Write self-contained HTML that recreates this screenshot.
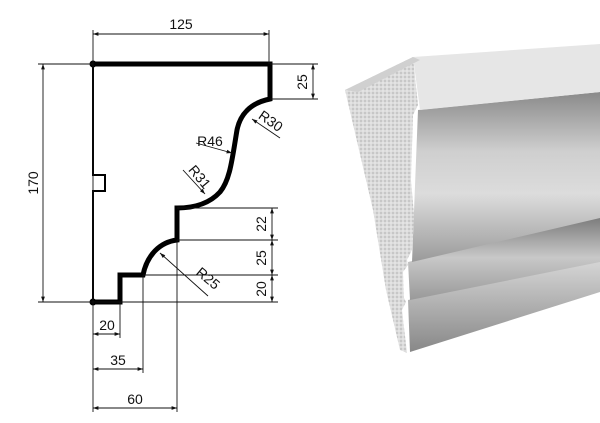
<!DOCTYPE html>
<html><head><meta charset="utf-8"><style>
html,body{margin:0;padding:0;background:#fff;width:600px;height:423px;overflow:hidden}
svg text{font-family:"Liberation Sans",sans-serif;font-size:14px;fill:#111}
</style></head><body>
<svg width="600" height="423" viewBox="0 0 600 423" xmlns="http://www.w3.org/2000/svg">
<defs>
<marker id="a" viewBox="0 0 10 10" refX="10" refY="5" markerWidth="8" markerHeight="6" orient="auto-start-reverse"><path d="M0,1.5 L10,5 L0,8.5 z" fill="#111"/></marker>
<linearGradient id="cove" x1="0" y1="0" x2="0" y2="1">
<stop offset="0" stop-color="#8a8a8a"/><stop offset="0.35" stop-color="#cfcfcf"/><stop offset="0.6" stop-color="#dcdcdc"/><stop offset="1" stop-color="#9a9a9a"/></linearGradient>
<linearGradient id="band" x1="0" y1="0" x2="0" y2="1">
<stop offset="0" stop-color="#d8d8d8"/><stop offset="1" stop-color="#888"/></linearGradient>
<linearGradient id="band2" x1="0" y1="0" x2="0" y2="1">
<stop offset="0" stop-color="#777"/><stop offset="0.5" stop-color="#c8c8c8"/><stop offset="1" stop-color="#999"/></linearGradient>
<pattern id="tex" width="4" height="4" patternUnits="userSpaceOnUse"><rect width="4" height="4" fill="#dcdcdc"/><circle cx="1" cy="1" r="0.9" fill="#b8b8b8"/><circle cx="3" cy="3" r="0.7" fill="#f0f0f0"/></pattern>
</defs>
<!-- 3D render -->
<polygon points="600,258 600,292 410,352 408,300" fill="url(#band)"/>
<polygon points="600,215 600,262 410,300 408,262" fill="url(#band2)"/>
<polygon points="600,92 600,218 412,262 418,110" fill="url(#cove)"/>
<polygon points="413,57 600,44 600,92 420,110" fill="#e6e6e6"/>
<polygon points="345,90 413,57 418,105 413,115 411,180 414,215 412,250 407,260 408,265 403,272 404,298 406,302 402,310 407,353 400,350 386,290 373,210" fill="url(#tex)"/>
<polygon points="345,90 413,57 420,60 358,92" fill="#d0d0d0"/>
<!-- profile -->
<path d="M93,64 H270 V99 C250,103 240,115 237,130 C232,160 230,180 220,192 C210,203 195,208 177,208 V240 C160,242 147,255 143,275 H120 V302 H93" fill="none" stroke="#000" stroke-width="5" stroke-linejoin="miter"/>
<path d="M93,64 V175 H105 V191 H93 V302" fill="none" stroke="#000" stroke-width="2"/>
<circle cx="93" cy="64" r="3.5" fill="#000"/><circle cx="93" cy="302" r="3.5" fill="#000"/>
<g stroke="#111" stroke-width="0.9" fill="none">
<line x1="93" y1="30" x2="93" y2="412"/><line x1="269" y1="30" x2="269" y2="64"/>
<line x1="38" y1="64" x2="93" y2="64"/><line x1="38" y1="302" x2="278" y2="302"/>
<line x1="270" y1="64" x2="318" y2="64"/><line x1="270" y1="99" x2="318" y2="99"/>
<line x1="177" y1="208" x2="278" y2="208"/><line x1="177" y1="240" x2="278" y2="240"/><line x1="143" y1="275" x2="278" y2="275"/>
<line x1="120" y1="302" x2="120" y2="338"/><line x1="143" y1="275" x2="143" y2="373"/><line x1="177" y1="240" x2="177" y2="412"/>
<line x1="93" y1="34" x2="269" y2="34" marker-start="url(#a)" marker-end="url(#a)"/>
<line x1="43" y1="64" x2="43" y2="302" marker-start="url(#a)" marker-end="url(#a)"/>
<line x1="313" y1="64" x2="313" y2="99" marker-start="url(#a)" marker-end="url(#a)"/>
<line x1="272" y1="208" x2="272" y2="240" marker-start="url(#a)" marker-end="url(#a)"/>
<line x1="272" y1="240" x2="272" y2="275" marker-start="url(#a)" marker-end="url(#a)"/>
<line x1="272" y1="275" x2="272" y2="302" marker-start="url(#a)" marker-end="url(#a)"/>
<line x1="93" y1="334" x2="120" y2="334" marker-start="url(#a)" marker-end="url(#a)"/>
<line x1="93" y1="369" x2="143" y2="369" marker-start="url(#a)" marker-end="url(#a)"/>
<line x1="93" y1="408" x2="177" y2="408" marker-start="url(#a)" marker-end="url(#a)"/>
<line x1="280" y1="138" x2="252" y2="119" marker-end="url(#a)"/>
<line x1="196" y1="143" x2="232" y2="153" marker-end="url(#a)"/>
<line x1="183" y1="170" x2="205" y2="194" marker-end="url(#a)"/>
<line x1="208" y1="296" x2="160" y2="253" marker-end="url(#a)"/>
</g>
<text x="181" y="29" text-anchor="middle">125</text>
<text transform="translate(38,183) rotate(-90)" text-anchor="middle">170</text>
<text transform="translate(307,82) rotate(-90)" text-anchor="middle">25</text>
<text transform="translate(266,224) rotate(-90)" text-anchor="middle">22</text>
<text transform="translate(266,258) rotate(-90)" text-anchor="middle">25</text>
<text transform="translate(266,289) rotate(-90)" text-anchor="middle">20</text>
<text x="107" y="330" text-anchor="middle">20</text>
<text x="118" y="365" text-anchor="middle">35</text>
<text x="135" y="404" text-anchor="middle">60</text>
<text transform="translate(268,125) rotate(35)" text-anchor="middle">R30</text>
<text x="210" y="146" text-anchor="middle">R46</text>
<text transform="translate(196,180) rotate(50)" text-anchor="middle">R31</text>
<text transform="translate(205,282) rotate(40)" text-anchor="middle">R25</text>
</svg>
</body></html>
